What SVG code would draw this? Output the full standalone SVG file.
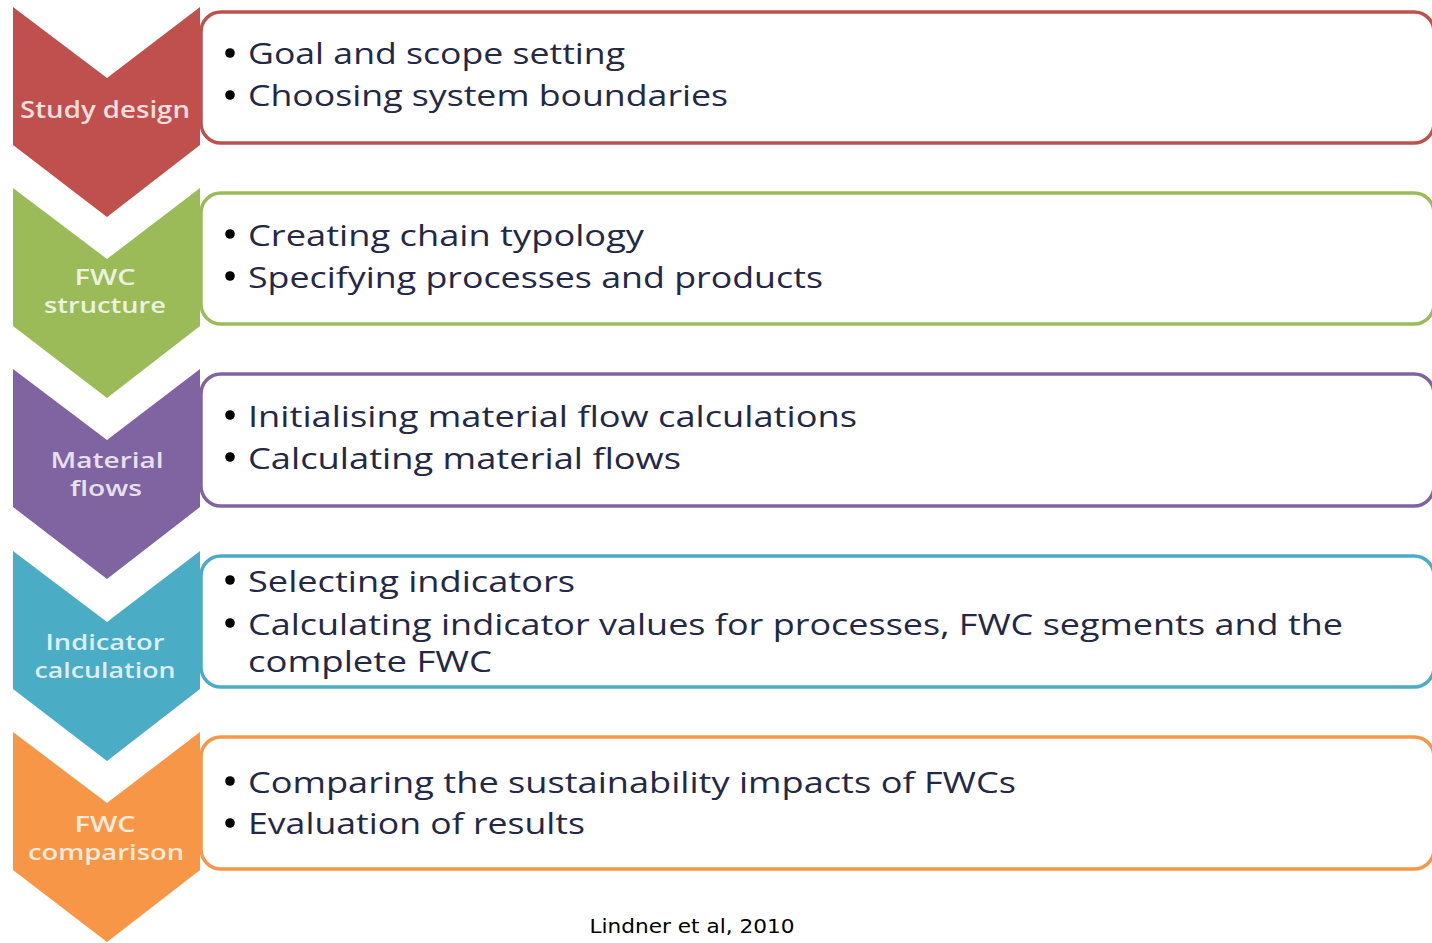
<svg xmlns="http://www.w3.org/2000/svg" width="1432" height="943" viewBox="0 0 1432 943">
  <style>
    .box { fill: #ffffff; stroke-width: 3.5; }
    .lbl { font-family: "Open Sans", "Liberation Sans", sans-serif; font-size: 22px; font-weight: 600; fill: #ffffff; fill-opacity: 0.82; text-anchor: middle; }
    .item { font-family: "Open Sans", "Liberation Sans", sans-serif; font-size: 30px; font-weight: 500; fill: #242845; }
    .dot { fill: #000000; }
    .cap { font-family: "DejaVu Sans", sans-serif; font-size: 19px; fill: #000000; text-anchor: middle; }
  </style>
  <defs>
    <polygon id="chev" points="13,0 107,71 200,0 200,138 107,210 13,138"/>
  </defs>
  <rect width="1432" height="943" fill="#ffffff"/>

  <!-- Step 1 -->
  <g id="step-study-design">
    <rect class="box" x="201" y="12" width="1233" height="131" rx="20" stroke="#C0504D"/>
    <use href="#chev" y="7" fill="#C0504D"/>
    <text class="lbl" x="105" y="118" style="font-size:23px" textLength="170" lengthAdjust="spacingAndGlyphs">Study design</text>
    <circle class="dot" cx="230" cy="53" r="4.8"/>
    <text class="item" x="248" y="64" textLength="377" lengthAdjust="spacingAndGlyphs">Goal and scope setting</text>
    <circle class="dot" cx="230" cy="95" r="4.8"/>
    <text class="item" x="248" y="106" textLength="480" lengthAdjust="spacingAndGlyphs">Choosing system boundaries</text>
  </g>

  <!-- Step 2 -->
  <g id="step-fwc-structure">
    <rect class="box" x="201" y="193" width="1233" height="131" rx="20" stroke="#9BBB59"/>
    <use href="#chev" y="188" fill="#9BBB59"/>
    <text class="lbl" x="105" y="285" textLength="61" lengthAdjust="spacingAndGlyphs">FWC</text>
    <text class="lbl" x="105" y="313" textLength="122" lengthAdjust="spacingAndGlyphs">structure</text>
    <circle class="dot" cx="230" cy="234" r="4.8"/>
    <text class="item" x="248" y="246" textLength="396" lengthAdjust="spacingAndGlyphs">Creating chain typology</text>
    <circle class="dot" cx="230" cy="276" r="4.8"/>
    <text class="item" x="248" y="288" textLength="575" lengthAdjust="spacingAndGlyphs">Specifying processes and products</text>
  </g>

  <!-- Step 3 -->
  <g id="step-material-flows">
    <rect class="box" x="201" y="374" width="1233" height="132" rx="20" stroke="#8064A2"/>
    <use href="#chev" y="369" fill="#8064A2"/>
    <text class="lbl" x="107" y="468" textLength="113" lengthAdjust="spacingAndGlyphs">Material</text>
    <text class="lbl" x="106" y="496" textLength="72" lengthAdjust="spacingAndGlyphs">flows</text>
    <circle class="dot" cx="230" cy="415" r="4.8"/>
    <text class="item" x="248" y="427" textLength="609" lengthAdjust="spacingAndGlyphs">Initialising material flow calculations</text>
    <circle class="dot" cx="230" cy="457" r="4.8"/>
    <text class="item" x="248" y="469" textLength="433" lengthAdjust="spacingAndGlyphs">Calculating material flows</text>
  </g>

  <!-- Step 4 -->
  <g id="step-indicator-calculation">
    <rect class="box" x="201" y="556" width="1233" height="131" rx="20" stroke="#4BACC6"/>
    <use href="#chev" y="551" fill="#4BACC6"/>
    <text class="lbl" x="105" y="650" textLength="119" lengthAdjust="spacingAndGlyphs">Indicator</text>
    <text class="lbl" x="105" y="678" textLength="141" lengthAdjust="spacingAndGlyphs">calculation</text>
    <circle class="dot" cx="230" cy="580" r="4.8"/>
    <text class="item" x="248" y="592" textLength="327" lengthAdjust="spacingAndGlyphs">Selecting indicators</text>
    <circle class="dot" cx="230" cy="623" r="4.8"/>
    <text class="item" x="248" y="635" textLength="1095" lengthAdjust="spacingAndGlyphs">Calculating indicator values for processes, FWC segments and the</text>
    <text class="item" x="248" y="672" textLength="244" lengthAdjust="spacingAndGlyphs">complete FWC</text>
  </g>

  <!-- Step 5 -->
  <g id="step-fwc-comparison">
    <rect class="box" x="201" y="737" width="1233" height="132" rx="20" stroke="#F79646"/>
    <use href="#chev" y="732" fill="#F79646"/>
    <text class="lbl" x="105" y="832" textLength="61" lengthAdjust="spacingAndGlyphs">FWC</text>
    <text class="lbl" x="106" y="860" textLength="156" lengthAdjust="spacingAndGlyphs">comparison</text>
    <circle class="dot" cx="230" cy="781" r="4.8"/>
    <text class="item" x="248" y="793" textLength="768" lengthAdjust="spacingAndGlyphs">Comparing the sustainability impacts of FWCs</text>
    <circle class="dot" cx="230" cy="823" r="4.8"/>
    <text class="item" x="248" y="834" textLength="337" lengthAdjust="spacingAndGlyphs">Evaluation of results</text>
  </g>

  <!-- the chevrons abut one another, so no separate lines are drawn -->
  <g id="connectors"/>

  <text class="cap" x="692" y="933" textLength="205" lengthAdjust="spacingAndGlyphs">Lindner et al, 2010</text>
</svg>
